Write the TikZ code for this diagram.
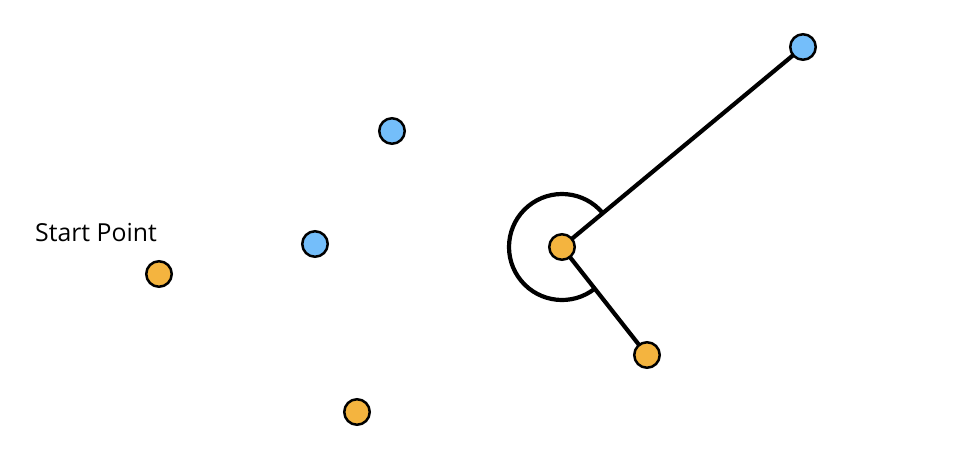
\documentclass[tikz,border=0pt]{standalone}
\usepackage{fontspec}
\setmainfont{Open Sans}
\usetikzlibrary{positioning}

\definecolor{dotorange}{HTML}{F4B43F}
\definecolor{dotblue}{HTML}{74BEFA}

\tikzset{
  dot/.style={circle,draw,line width=2.5pt,minimum size=25.5pt,inner sep=0pt},
  odot/.style={dot,fill=dotorange},
  bdot/.style={dot,fill=dotblue},
  link/.style={line width=4.2pt,color=black}
}

\begin{document}
\begin{tikzpicture}[x=1pt,y=-1pt]
\useasboundingbox (0,0) rectangle (974,474);

%%% POINTS
\coordinate (start) at (159,274);
\coordinate (bleft) at (315,244);
\coordinate (bup) at (392,131);
\coordinate (olow) at (357,412);
\coordinate (pivot) at (562,247);
\coordinate (onear) at (647,355);
\coordinate (bfar) at (803,47);

%%% LINKS
\path[draw,link] (pivot) -- (bfar);
\path[draw,link] (pivot) -- (onear);
\path[draw,link] (pivot) ++(39.7:53pt) arc[start angle=39.7,end angle=308.2,radius=53pt];

%%% DOTS
\path (start) node[odot] (nstart) {};
\path (bleft) node[bdot] (nbleft) {};
\path (bup) node[bdot] (nbup) {};
\path (olow) node[odot] (nolow) {};
\path (pivot) node[odot] (npivot) {};
\path (onear) node[odot] (nonear) {};
\path (bfar) node[bdot] (nbfar) {};

%%% LABEL
\path (35,241) node[anchor=base west,inner sep=0pt,font=\fontsize{24.8}{29}\selectfont] (lstart) {Start Point};
\end{tikzpicture}
\end{document}
